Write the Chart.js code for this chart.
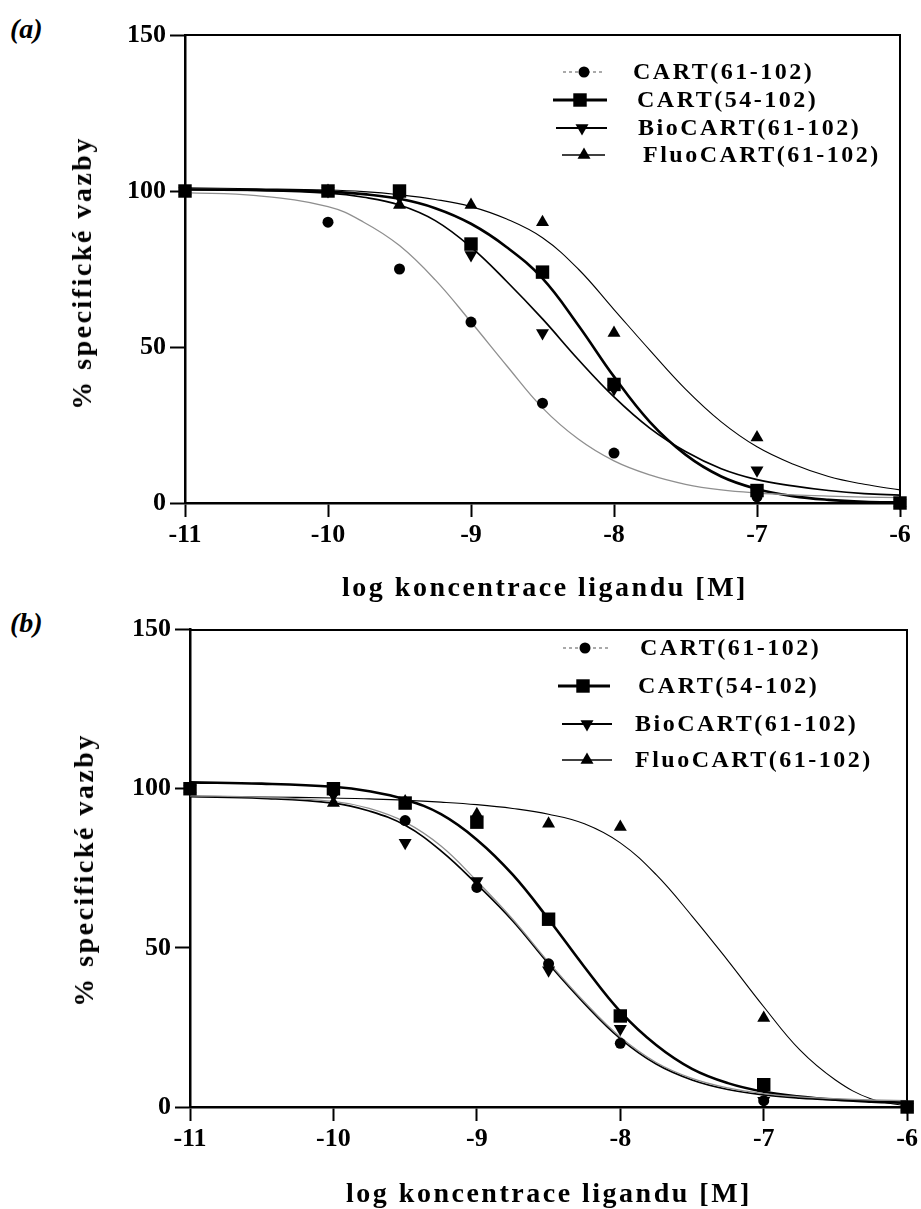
<!DOCTYPE html>
<html lang="cs">
<head>
<meta charset="UTF-8">
<title>Kompetitivní vazba CART peptidů</title>
<script src="https://cdn.jsdelivr.net/npm/chart.js"></script>
<style>
  body { margin: 0; background: #fff; width: 921px; height: 1209px; position: relative; overflow: hidden;
         font-family: "Liberation Serif", "DejaVu Serif", serif; color: #000; }
  canvas { position: absolute; left: 0; }
  .panel { position: absolute; font-size: 28px; font-weight: bold; font-style: italic; }
  .title { position: absolute; font-size: 28px; font-weight: bold; letter-spacing: 2.5px; white-space: nowrap; }
  .xt { transform: translate(-50%, -50%); }
  .yt { transform: translate(-50%, -50%) rotate(-90deg); }
</style>
</head>
<body>
<div class="panel" style="left:10px; top:13px;">(a)</div>
<div class="panel" style="left:10px; top:607px;">(b)</div>
<canvas id="chartA" width="921" height="610" style="top:0"></canvas>
<canvas id="chartB" width="921" height="599" style="top:610px"></canvas>
<div class="title xt" style="left:545px; top:587px;">log koncentrace ligandu [M]</div>
<div class="title xt" style="left:549px; top:1193px;">log koncentrace ligandu [M]</div>
<div class="title yt" style="left:82px; top:273px;">% specifické vazby</div>
<div class="title yt" style="left:84px; top:870px;">% specifické vazby</div>
<script>
const seriesNames = ['CART(61-102)', 'CART(54-102)', 'BioCART(61-102)', 'FluoCART(61-102)'];
const xTicks = [-11, -10, -9, -8, -7, -6];
const yTicks = [0, 50, 100, 150];

// measured points (log M)
const logConc = [-11, -10, -9.5, -9, -8.5, -8, -7, -6];
const a_cart61 = [100, 90, 75, 58, 32, 16, 2, 0];
const a_cart54 = [100, 100, 100, 83, 74, 38, 4, 0];
const a_bio    = [100, 100, 98, 79.5, 54.5, 36.5, 10.5, 0];
const a_fluo   = [100, 100, 95.5, 95.5, 90, 54.5, 21, 0];

const b_cart61 = [100, 99, 90, 69, 45, 20, 2, 0];
const b_cart54 = [100, 100, 95.5, 89.5, 59, 28.6, 7, 0];
const b_bio    = [100, 98, 83, 71, 43, 24.6, 2, 0];
const b_fluo   = [100, 95.5, 96, 92, 89, 88, 28, 0];

// fitted curves
const fitX = [-11, -10.5, -10, -9.75, -9.5, -9.25, -9, -8.75, -8.5, -8.25, -8, -7.75, -7.5, -7.25, -7, -6.75, -6.5, -6.25, -6];
const a_fit_cart61 = [99.5, 98.5, 95, 90, 82.5, 71.5, 58, 44, 30.5, 20.5, 13.5, 9, 6, 4.2, 3.2, 2.6, 2.2, 1.9, 1.7];
const a_fit_cart54 = [100.5, 100.3, 99.8, 99, 97.5, 94.5, 89.5, 82, 72, 57, 40.5, 26, 15.5, 8.5, 4.5, 2.2, 1, 0.4, 0.2];
const a_fit_bio    = [100.5, 100.2, 99.3, 98, 95.5, 90.5, 82, 71, 59, 46, 34, 24, 16.5, 11, 7.5, 5.5, 4, 3, 2.5];
const a_fit_fluo   = [101, 100.7, 100.3, 99.8, 98.8, 97.3, 95, 91, 85, 75, 62, 49, 36.5, 26, 18, 12.5, 8.5, 6, 4.2];

const b_fit_cart61 = [97.8, 97.3, 96, 93.8, 89.5, 82, 71, 59, 45.5, 33, 22, 14, 9, 6, 4.2, 3.2, 2.6, 2.2, 2];
const b_fit_cart54 = [102, 101.6, 100.6, 99.2, 96.6, 92, 84, 73, 59, 44, 30, 19.5, 12, 7.5, 4.8, 3.3, 2.3, 1.7, 1.3];
const b_fit_bio    = [97.5, 97, 95.5, 93, 88.5, 80.5, 70, 58.5, 45, 32.5, 21.5, 13.5, 8.5, 5.5, 3.8, 2.8, 2.2, 1.8, 1.5];
const b_fit_fluo   = [97.6, 97.4, 97.1, 96.8, 96.4, 95.8, 95, 93.8, 92, 89, 83, 73, 60, 46, 31.5, 18, 8.5, 2.5, 0.3];

// look of each series: curve + marker
const looks = [
  { line: '#8f8f8f', width: 1.3, legWidth: 1.5, dash: [3, 3], marker: 'circle', radius: 5.5, rot: 0 },
  { line: '#000', width: 2.6, legWidth: 3, dash: [], marker: 'rect', radius: 9.5, rot: 0 },
  { line: '#000', width: 1.7, legWidth: 2, dash: [], marker: 'triangle', radius: 7.5, rot: 180 },
  { line: '#000', width: 1.1, legWidth: 1.3, dash: [], marker: 'triangle', radius: 7.5, rot: 0 }
];

function drawMarker(ctx, type, r, rot, x, y) {
  ctx.beginPath();
  if (type === 'circle') {
    ctx.arc(x, y, r, 0, Math.PI * 2);
  } else if (type === 'rect') {
    const h = r * Math.SQRT1_2;
    ctx.rect(x - h, y - h, 2 * h, 2 * h);
  } else {
    let a = rot * Math.PI / 180;
    for (let k = 0; k < 3; k++) {
      const px = x + Math.sin(a) * r, py = y - Math.cos(a) * r;
      k === 0 ? ctx.moveTo(px, py) : ctx.lineTo(px, py);
      a += 2 * Math.PI / 3;
    }
    ctx.closePath();
  }
  ctx.fill();
}

const legendPlugin = {
  id: 'peptideLegend',
  afterDatasetsDraw(chart, args, opts) {
    const ctx = chart.ctx;
    ctx.save();
    opts.rows.forEach((row, i) => {
      const lk = looks[i];
      ctx.strokeStyle = lk.line;
      ctx.lineWidth = lk.legWidth;
      ctx.setLineDash(lk.dash);
      ctx.beginPath();
      ctx.moveTo(row.x1, row.y);
      ctx.lineTo(row.x2, row.y);
      ctx.stroke();
      ctx.setLineDash([]);
      ctx.fillStyle = '#000';
      drawMarker(ctx, lk.marker, lk.radius, lk.rot, row.xm, row.y);
      ctx.font = 'bold 24px "Liberation Serif"';
      ctx.letterSpacing = '2.5px';
      ctx.textBaseline = 'middle';
      ctx.fillText(seriesNames[i], row.xt, row.y + 1);
    });
    ctx.restore();
  }
};

const tickFont = { family: 'Liberation Serif', size: 26, weight: 'bold' };

function makeChart(id, points, fits, box, rows) {
  const datasets = [];
  for (let i = 0; i < 4; i++) {
    const lk = looks[i];
    datasets.push({
      label: seriesNames[i] + ' fit',
      data: fitX.map((x, j) => ({ x: x, y: fits[i][j] })),
      showLine: true,
      pointRadius: 0,
      borderColor: lk.line,
      borderWidth: lk.width,
      tension: 0.4,
      clip: false,
      order: 2
    });
    datasets.push({
      label: seriesNames[i],
      data: logConc.map((x, j) => ({ x: x, y: points[i][j] })),
      showLine: false,
      pointStyle: lk.marker,
      pointRadius: lk.radius,
      pointRotation: lk.rot,
      pointBackgroundColor: '#000',
      pointBorderColor: '#000',
      pointBorderWidth: 0,
      clip: false,
      order: 1
    });
  }

  return new Chart(document.getElementById(id), {
    type: 'scatter',
    data: { datasets: datasets },
    options: {
      responsive: false,
      animation: false,
      devicePixelRatio: 1,
      layout: { padding: 0 },
      plugins: { legend: { display: false }, tooltip: { enabled: false }, peptideLegend: { rows: rows } },
      scales: {
        x: {
          type: 'linear', position: 'bottom', min: -11, max: -6,
          afterBuildTicks: s => { s.ticks = xTicks.map(v => ({ value: v })); },
          afterFit: s => { s.height = box.bottom; },
          ticks: { font: tickFont, color: '#000', padding: 3, maxRotation: 0, autoSkip: false, callback: v => String(v) },
          grid: { drawOnChartArea: false, tickLength: 14, tickWidth: 2, tickColor: '#000', color: '#000' },
          border: { color: '#000', width: 2.5 }
        },
        y: {
          type: 'linear', position: 'left', min: 0, max: 150,
          afterBuildTicks: s => { s.ticks = yTicks.map(v => ({ value: v })); },
          afterFit: s => { s.width = box.left; },
          ticks: { font: tickFont, color: '#000', padding: 4, callback: v => String(v) },
          grid: { drawOnChartArea: false, tickLength: 15, tickWidth: 2, tickColor: '#000', color: '#000' },
          border: { color: '#000', width: 2.5 }
        },
        x2: {
          type: 'linear', position: 'top', min: -11, max: -6,
          afterFit: s => { s.height = box.top; },
          ticks: { display: false }, grid: { display: false },
          border: { display: true, color: '#000', width: 2 }
        },
        y2: {
          type: 'linear', position: 'right', min: 0, max: 150,
          afterFit: s => { s.width = box.right; },
          ticks: { display: false }, grid: { display: false },
          border: { display: true, color: '#000', width: 2 }
        }
      }
    },
    plugins: [legendPlugin]
  });
}

makeChart('chartA',
  [a_cart61, a_cart54, a_bio, a_fluo],
  [a_fit_cart61, a_fit_cart54, a_fit_bio, a_fit_fluo],
  { left: 185, right: 21, top: 35, bottom: 107 },
  [
    { y: 72, x1: 563, x2: 605, xm: 584, xt: 633 },
    { y: 100, x1: 553, x2: 607, xm: 580, xt: 637 },
    { y: 128, x1: 556, x2: 607, xm: 582, xt: 638 },
    { y: 155, x1: 562, x2: 605, xm: 584, xt: 643 }
  ]);

makeChart('chartB',
  [b_cart61, b_cart54, b_bio, b_fluo],
  [b_fit_cart61, b_fit_cart54, b_fit_bio, b_fit_fluo],
  { left: 190, right: 13, top: 15, bottom: 102 },
  [
    { y: 38, x1: 563, x2: 608, xm: 585, xt: 640 },
    { y: 76, x1: 558, x2: 610, xm: 583, xt: 638 },
    { y: 114, x1: 562, x2: 612, xm: 587, xt: 635 },
    { y: 150, x1: 562, x2: 612, xm: 587, xt: 635 }
  ]);
</script>
</body>
</html>
